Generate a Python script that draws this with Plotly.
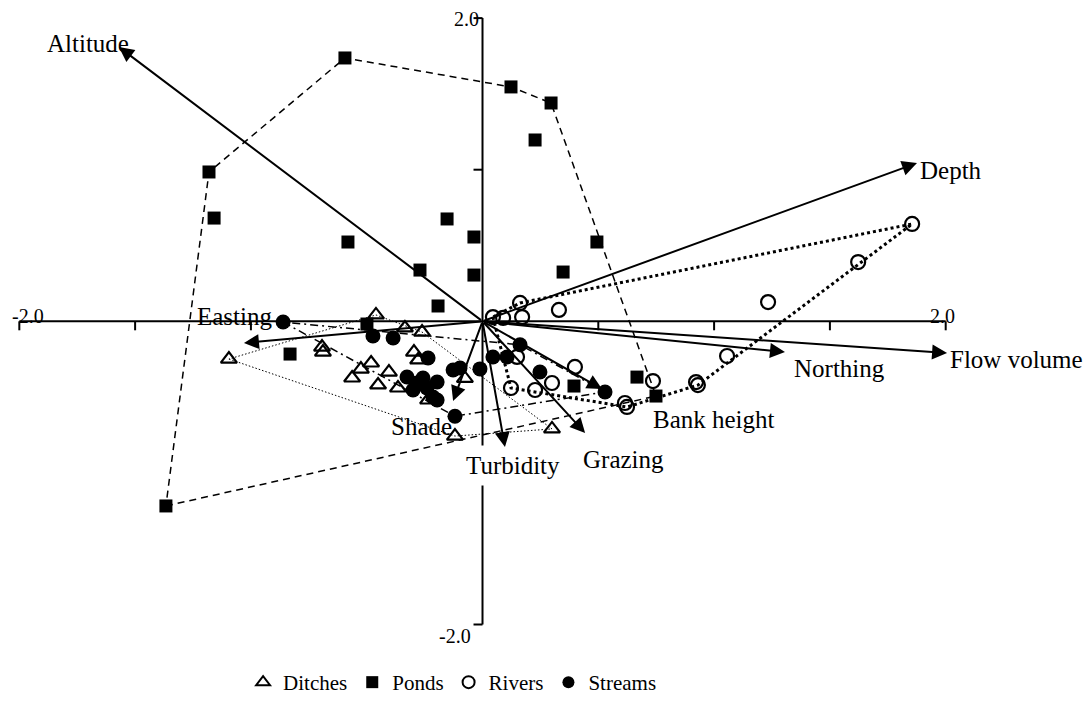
import plotly.graph_objects as go

# ---------------- data ----------------
ditches_x = [-0.460, -0.335, -0.261, -1.095, -0.693, -0.689, -0.296, -0.278, -0.481,
             -0.525, -0.563, -0.404, -0.451, -0.365, -0.235, -0.076, -0.119, 0.300]
ditches_y = [0.042, -0.044, -0.071, -0.249, -0.170, -0.203, -0.203, -0.255, -0.275,
             -0.315, -0.374, -0.335, -0.420, -0.440, -0.519, -0.377, -0.757, -0.710]

ponds_x = [-0.594, 0.123, 0.296, 0.227, -1.181, -1.159, -0.581, -0.153, -0.037, -0.270,
           -0.037, -0.192, 0.494, 0.348, -0.499, -0.831, 0.395, 0.667, 0.749, -1.367]
ponds_y = [1.737, 1.546, 1.440, 1.196, 0.985, 0.681, 0.523, 0.675, 0.556, 0.338,
           0.305, 0.101, 0.523, 0.325, -0.018, -0.216, -0.427, -0.368, -0.493, -1.218]

rivers_x = [1.855, 1.622, 1.233, 0.162, 0.330, 0.045, 0.089, 0.171, 0.149, 0.399,
            0.300, 0.227, 0.123, 1.056, 0.736, 0.922, 0.930, 0.615, 0.624]
rivers_y = [0.642, 0.391, 0.127, 0.121, 0.075, 0.028, 0.022, 0.028, -0.235, -0.301,
            -0.407, -0.453, -0.440, -0.229, -0.394, -0.401, -0.421, -0.539, -0.565]

streams_x = [-0.861, -0.473, -0.386, -0.235, -0.326, -0.283, -0.257, -0.196, -0.300, -0.240,
             -0.214, -0.196, -0.127, -0.097, -0.011, -0.119, 0.162, 0.045, 0.106, 0.248, 0.529]
streams_y = [-0.005, -0.097, -0.110, -0.242, -0.367, -0.407, -0.374, -0.400, -0.453, -0.440,
             -0.499, -0.519, -0.321, -0.308, -0.314, -0.626, -0.155, -0.235, -0.235, -0.334, -0.466]

variables = ["Altitude", "Depth", "Flow volume", "Northing", "Bank height",
             "Grazing", "Turbidity", "Shade", "Easting"]
load_x = [-1.570, 1.876, 2.006, 1.306, 0.516, 0.443, 0.097, -0.127, -1.030]
load_y = [1.809, 1.044, -0.209, -0.203, -0.447, -0.737, -0.829, -0.526, -0.143]

x_ticks = [-2.0, -1.5, -1.0, -0.5, 0.5, 1.0, 1.5, 2.0]
y_ticks = [-2.0, -1.0, 1.0, 2.0]
axis_min, axis_max = -2.0, 2.0
axis_labels = ["-2.0", "2.0"]

# ---------------- styling ----------------
FONT = "Liberation Serif"
# label placement relative to arrow tip: (xanchor, xshift px, yshift px, white background)
label_style = {
    "Altitude": ("center", -31, 4, False),
    "Depth": ("left", 1, -7, False),
    "Flow volume": ("left", 1, -7, False),
    "Northing": ("left", 7, -16, False),
    "Bank height": ("left", 49, -30, False),
    "Grazing": ("left", -4, -26, False),
    "Turbidity": ("left", -46, -19, True),
    "Shade": ("left", -64, -25, False),
    "Easting": ("left", -49, 26, False),
}


def convex_hull(xs, ys):
    pts = sorted(set(zip(xs, ys)))
    if len(pts) < 3:
        return pts

    def cross(o, a, b):
        return (a[0] - o[0]) * (b[1] - o[1]) - (a[1] - o[1]) * (b[0] - o[0])

    lower = []
    for p in pts:
        while len(lower) >= 2 and cross(lower[-2], lower[-1], p) <= 0:
            lower.pop()
        lower.append(p)
    upper = []
    for p in reversed(pts):
        while len(upper) >= 2 and cross(upper[-2], upper[-1], p) <= 0:
            upper.pop()
        upper.append(p)
    return lower[:-1] + upper[:-1]


fig = go.Figure()

groups = [
    ("Ditches", ditches_x, ditches_y, dict(symbol="triangle-up-open", size=14, color="black",
                                            line=dict(width=2.2, color="black")),
     dict(color="black", width=1, dash="1.5px,2px")),
    ("Ponds", ponds_x, ponds_y, dict(symbol="square", size=13, color="black"),
     dict(color="black", width=1.5, dash="7px,5px")),
    ("Rivers", rivers_x, rivers_y, dict(symbol="circle-open", size=14, color="black",
                                         line=dict(width=2.2, color="black")),
     dict(color="black", width=3, dash="3px,3px")),
    ("Streams", streams_x, streams_y, dict(symbol="circle", size=15, color="black"),
     dict(color="black", width=1.5, dash="8px,4px,2px,4px")),
]

# hulls
for name, xs, ys, mk, ln in groups:
    hull = convex_hull(xs, ys)
    hull.append(hull[0])
    fig.add_trace(go.Scatter(x=[p[0] for p in hull], y=[p[1] for p in hull], mode="lines",
                             line=ln, showlegend=False, hoverinfo="skip"))

# points
for name, xs, ys, mk, ln in groups:
    fig.add_trace(go.Scatter(x=xs, y=ys, mode="markers", marker=mk, name=name,
                             cliponaxis=False))

# axes drawn through the origin
shapes = [
    dict(type="line", x0=axis_min, x1=axis_max, y0=0, y1=0, layer="below",
         line=dict(color="black", width=2)),
    dict(type="line", x0=0, x1=0, y0=axis_min, y1=axis_max, layer="below",
         line=dict(color="black", width=2)),
]
for t in x_ticks:
    shapes.append(dict(type="line", x0=t, x1=t, ysizemode="pixel", yanchor=0, y0=0, y1=-9,
                       layer="below", line=dict(color="black", width=2)))
for t in y_ticks:
    shapes.append(dict(type="line", y0=t, y1=t, xsizemode="pixel", xanchor=0, x0=0, x1=-9,
                       layer="below", line=dict(color="black", width=2)))

annotations = []
tick_font = dict(family=FONT, size=20, color="black")
annotations += [
    dict(x=axis_min, y=0, text=axis_labels[0], showarrow=False, xanchor="left", yanchor="bottom",
         xshift=-9, yshift=-8, font=tick_font),
    dict(x=axis_max, y=0, text=axis_labels[1], showarrow=False, xanchor="right", yanchor="bottom",
         xshift=11, yshift=-8, font=tick_font),
    dict(x=0, y=axis_max, text=axis_labels[1], showarrow=False, xanchor="right", yanchor="middle",
         xshift=-2, yshift=-1, font=tick_font),
    dict(x=0, y=axis_min, text=axis_labels[0], showarrow=False, xanchor="right", yanchor="top",
         xshift=-10, yshift=2, font=tick_font),
]

label_font = dict(family=FONT, size=25, color="black")
for v, lx, ly in zip(variables, load_x, load_y):
    xa, xs_, ys_, bg = label_style[v]
    a = dict(x=lx, y=ly, text=v, showarrow=False, xanchor=xa, yanchor="middle",
             xshift=xs_, yshift=ys_, font=label_font)
    if bg:
        a.update(bgcolor="white", borderpad=6)
    annotations.append(a)

for v, lx, ly in zip(variables, load_x, load_y):
    annotations.append(dict(x=lx, y=ly, ax=0, ay=0, axref="x", ayref="y", xref="x", yref="y",
                            text="", showarrow=True, arrowhead=2, arrowsize=1.5, arrowwidth=2,
                            arrowcolor="black", standoff=0))

fig.update_layout(
    width=1092, height=703,
    margin=dict(l=0, r=0, t=0, b=0),
    paper_bgcolor="white", plot_bgcolor="white",
    xaxis=dict(range=[-2.0834, 2.6317], visible=False, fixedrange=True),
    yaxis=dict(range=[-2.5178, 2.1194], visible=False, fixedrange=True),
    shapes=shapes,
    annotations=annotations,
    showlegend=True,
    legend=dict(orientation="h", x=0.414, xanchor="center", y=0.0, yanchor="bottom",
                font=dict(family=FONT, size=21, color="black"), bgcolor="rgba(0,0,0,0)",
                itemsizing="constant"),
    font=dict(family=FONT, color="black"),
)

fig.write_html("out.html")
